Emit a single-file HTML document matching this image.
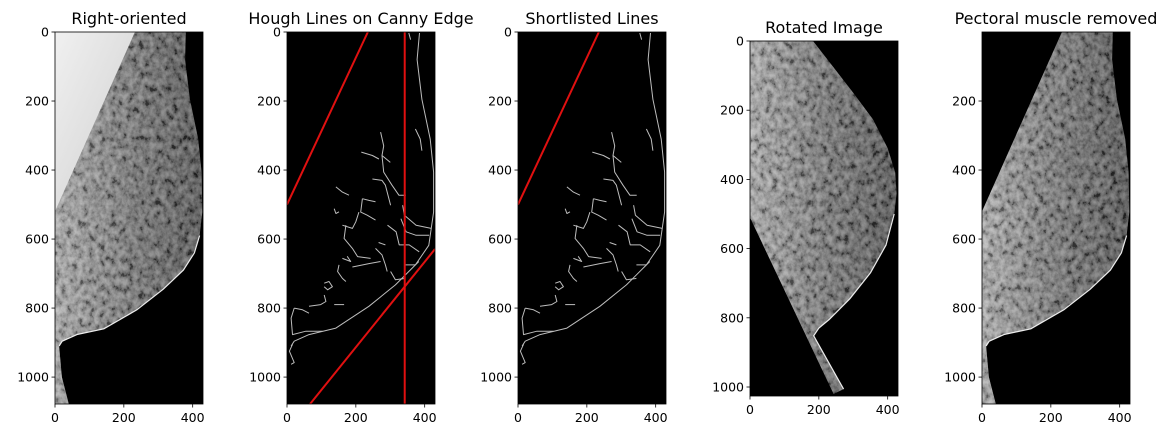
<!DOCTYPE html>
<html><head><meta charset="utf-8">
<style>
html,body{margin:0;padding:0;background:#fff;}
svg{display:block;font-family:"DejaVu Sans","Liberation Sans",sans-serif;}
</style></head>
<body>
<svg id="fig" width="1170" height="438" viewBox="0 0 1170 438" xmlns="http://www.w3.org/2000/svg">
<defs>
<filter id="tex" x="0" y="0" width="100%" height="100%">
<feTurbulence type="fractalNoise" baseFrequency="0.18 0.14" numOctaves="4" seed="7" result="n"/>
<feColorMatrix in="n" type="matrix" values="1.8 0 0 0 -0.45  1.8 0 0 0 -0.45  1.8 0 0 0 -0.45  0 0 0 0 1"/>
</filter>
<linearGradient id="tissue" x1="0" y1="0" x2="1" y2="0">
<stop offset="0" stop-color="#a0a0a0"/>
<stop offset="0.5" stop-color="#5e5e5e"/>
<stop offset="1" stop-color="#2e2e2e"/>
</linearGradient>
<linearGradient id="pect" x1="0" y1="0" x2="1" y2="1">
<stop offset="0" stop-color="#f0f0f0"/>
<stop offset="1" stop-color="#cfcfcf"/>
</linearGradient>
</defs>
<g id="root"></g>
</svg>
<script>
const xTicks = [0, 200, 400];
const yTicks = [0, 200, 400, 600, 800, 1000];
const yTicksLast = [200, 400, 600, 800, 1000];
const titles = ["Right-oriented", "Hough Lines on Canny Edge", "Shortlisted Lines", "Rotated Image", "Pectoral muscle removed"];
const outline = [[380,0],[378,80],[392,195],[416,310],[426,406],[428,522],[420,590],[405,640],[373,690],[315,745],[238,805],[142,860],[64,877],[21,896],[12,910],[20,1000],[40,1078],[0,1078],[0,0]];
const houghLines = [[[0,500],[235,0]], [[342,0],[342,1078]], [[67,1078],[430,629]]];
const shortlisted = [[[0,500],[235,0]]];
const edges = [
 [[385,3],[378,80],[392,195],[416,310],[426,406],[426,522],[412,618],[373,675],[315,733],[238,795],[142,858],[64,877],[21,896],[12,910]],
 [[272,290],[281,330],[276,358],[300,378]],
 [[216,348],[248,358],[267,368]],
 [[276,358],[281,406],[305,444],[325,473],[345,473]],
 [[248,426],[276,430],[286,444],[301,502]],
 [[142,449],[161,464],[180,473]],
 [[219,483],[214,522],[233,531],[257,545]],
 [[219,483],[238,488],[257,492]],
 [[137,512],[142,526],[151,521]],
 [[161,560],[190,569],[200,550],[209,522]],
 [[171,560],[166,598],[190,627],[205,651],[243,656]],
 [[292,560],[317,579],[326,617],[355,617],[384,637]],
 [[331,541],[346,579],[375,589],[413,589]],
 [[336,502],[341,531],[375,560],[419,569]],
 [[257,627],[276,646],[286,675],[291,694]],
 [[266,610],[286,617]],
 [[161,656],[185,665],[175,650]],
 [[190,681],[238,671],[272,665]],
 [[151,675],[147,694],[161,714],[171,723]],
 [[301,694],[315,718],[344,714]],
 [[344,675],[373,675],[383,665]],
 [[108,728],[122,723],[132,738],[118,747],[108,738]],
 [[108,762],[113,781],[98,790],[64,795]],
 [[137,790],[166,790]],
 [[21,800],[45,805],[64,815]],
 [[21,800],[12,829],[16,877],[55,867],[103,867]],
 [[16,905],[7,925],[21,958],[12,963]],
 [[373,281],[387,310],[392,344]],
 [[354,3],[359,22]]
];
const rotOutline = [[0,0],[183,0],[230,60],[300,150],[357,226],[400,310],[422,380],[426,440],[419,500],[395,590],[350,670],[290,745],[230,805],[200,830],[185,852],[272,1006],[243,1020],[0,510]];

const NS = "http://www.w3.org/2000/svg";
const root = document.getElementById('root');
function mk(tag, attrs, parent){ const e=document.createElementNS(NS,tag); for(const k in attrs) e.setAttribute(k,attrs[k]); (parent||root).appendChild(e); return e; }

const panels = [
 {x0:55, y0:32, w:148, h:372, ymax:1078, yt:yTicks},
 {x0:287, y0:32, w:148, h:372, ymax:1078, yt:yTicks},
 {x0:518, y0:32, w:148, h:372, ymax:1078, yt:yTicks},
 {x0:750, y0:41, w:148, h:355, ymax:1026, yt:yTicks},
 {x0:982, y0:32, w:148, h:372, ymax:1078, yt:yTicksLast}
];
const XMAX = 430;
function sx(p,v){ return p.x0 + v/XMAX*p.w; }
function sy(p,v){ return p.y0 + v/p.ymax*p.h; }
function pts(p,arr){ return arr.map(q=>sx(p,q[0]).toFixed(1)+","+sy(p,q[1]).toFixed(1)).join(" "); }
function tissue(p,parent){
  mk('rect',{x:p.x0,y:p.y0,width:p.w,height:p.h,fill:'url(#tissue)'},parent);
  mk('rect',{x:p.x0,y:p.y0,width:p.w,height:p.h,filter:'url(#tex)',opacity:0.4},parent);
}

panels.forEach((p,i)=>{
  const g = mk('g',{});
  
  
  const cid='clip'+i;
  const cp=mk('clipPath',{id:cid},g); mk('rect',{x:p.x0,y:p.y0,width:p.w,height:p.h},cp);
  const bg=mk('rect',{x:p.x0,y:p.y0,width:p.w,height:p.h,fill:'#000'},g);
  
  
  const img=mk('g',{'clip-path':'url(#'+cid+')'},g);
  if(i===0||i===4){
    const bid='breast'+i;
    const bc=mk('clipPath',{id:bid},g);
    mk('polygon',{points:pts(p,outline)},bc);
    const bg2=mk('g',{'clip-path':'url(#'+bid+')'},img);
    
    
    tissue(p,bg2);
    const pm=mk('polygon',{points:pts(p,[[0,0],[232,0],[0,520]]),fill:i===0?'url(#pect)':'#000'},bg2);
    
    
    mk('polyline',{points:pts(p,outline.slice(6,15)),fill:'none',stroke:'#fff','stroke-width':1.2,opacity:0.9},img);
  }
  if(i===3){
    const rc=mk('clipPath',{id:'rot'},g); mk('polygon',{points:pts(p,rotOutline)},rc);
    const rg=mk('g',{'clip-path':'url(#rot)'},img);
    
    
    tissue(p,rg);
    mk('polyline',{points:pts(p,rotOutline.slice(8,16)),fill:'none',stroke:'#fff','stroke-width':1.2,opacity:0.9},img);
  }
  if(i===1||i===2){
    edges.forEach(e=>{
      const l=mk('polyline',{points:pts(p,e),fill:'none',stroke:'#bdbdbd','stroke-width':1,'stroke-linejoin':'round'},img);
      
      
    });
    (i===1?houghLines:shortlisted).forEach(L=>{
      const l=mk('line',{x1:sx(p,L[0][0]),y1:sy(p,L[0][1]),x2:sx(p,L[1][0]),y2:sy(p,L[1][1]),stroke:'#e01010','stroke-width':2},img);
      
      
    });
  }
  const fr=mk('rect',{x:p.x0,y:p.y0,width:p.w,height:p.h,fill:'none',stroke:'#000','stroke-width':0.8},g);
  
  
  xTicks.forEach(t=>{
    const x=sx(p,t);
    mk('line',{x1:x,y1:p.y0+p.h,x2:x,y2:p.y0+p.h+3.5,stroke:'#000','stroke-width':0.8},g);
    const tx=mk('text',{x:x,y:p.y0+p.h+18,'text-anchor':'middle','font-size':12.5,fill:'#000'},g);
    tx.textContent=t;
    
    
  });
  p.yt.forEach(t=>{
    const y=sy(p,t);
    mk('line',{x1:p.x0-3.5,y1:y,x2:p.x0,y2:y,stroke:'#000','stroke-width':0.8},g);
    const tx=mk('text',{x:p.x0-6,y:y+4.5,'text-anchor':'end','font-size':12.5,fill:'#000'},g);
    tx.textContent=t;
    
    
  });
  const tt=mk('text',{x:p.x0+p.w/2,y:p.y0-8,'text-anchor':'middle','font-size':16,fill:'#000'},g);
  tt.textContent=titles[i];
  
  
});
</script>
</body></html>
